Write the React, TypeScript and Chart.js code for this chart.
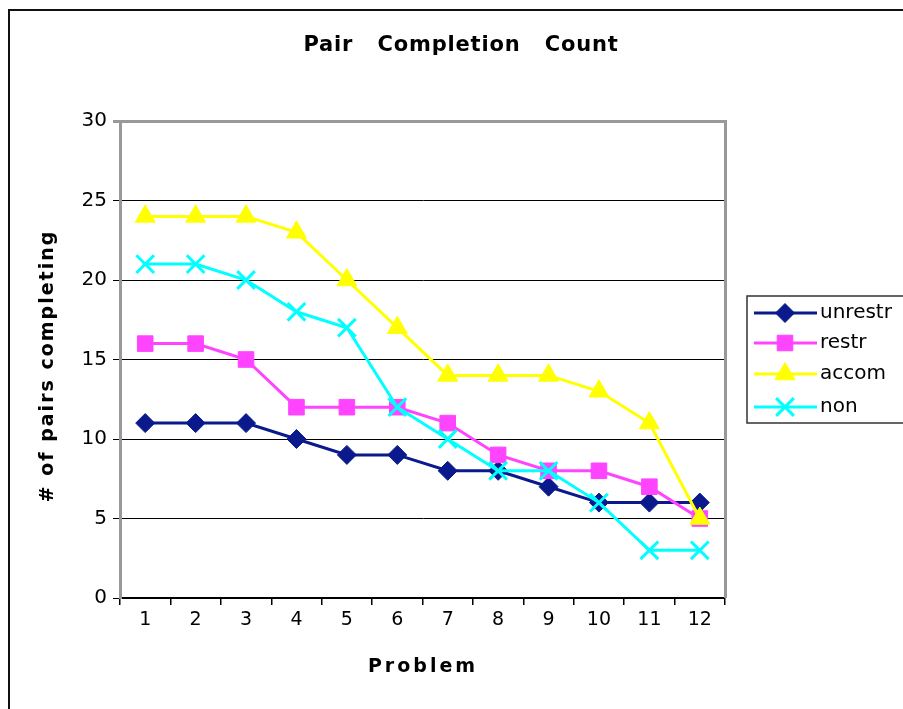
import React, { useEffect, useRef } from "react";
import { Chart, registerables } from "chart.js";
import { drawPoint } from "chart.js/helpers";

Chart.register(...registerables);

const problems = ["1", "2", "3", "4", "5", "6", "7", "8", "9", "10", "11", "12"];
const unrestr = [11, 11, 11, 10, 9, 9, 8, 8, 7, 6, 6, 6];
const restr = [16, 16, 15, 12, 12, 12, 11, 9, 8, 8, 7, 5];
const accom = [24, 24, 24, 23, 20, 17, 14, 14, 14, 13, 11, 5];
const non = [21, 21, 20, 18, 17, 12, 10, 8, 8, 6, 3, 3];

const FONT = "'DejaVu Sans', Verdana, sans-serif";

const NAVY = "#0a1a8c";
const MAGENTA = "#ff44ff";
const YELLOW = "#ffff00";
const CYAN = "#00ffff";

const decorPlugin = {
  id: "decor",
  afterDraw(chart: any) {
    const ctx = chart.ctx as CanvasRenderingContext2D;
    const area = chart.chartArea;
    ctx.save();
    // right border of plot area
    ctx.strokeStyle = "#999999";
    ctx.lineWidth = 3;
    ctx.beginPath();
    ctx.moveTo(area.right + 0.5, area.top - 1);
    ctx.lineTo(area.right + 0.5, area.bottom);
    ctx.stroke();

    // title
    ctx.fillStyle = "#000";
    ctx.textAlign = "center";
    ctx.textBaseline = "middle";
    ctx.font = `bold 21px ${FONT}`;
    (ctx as any).letterSpacing = "0.8px";
    ctx.fillText("Pair   Completion   Count", 461, 46);

    // x title
    ctx.font = `bold 19px ${FONT}`;
    (ctx as any).letterSpacing = "3px";
    ctx.fillText("Problem", 423, 667);

    // y title
    ctx.save();
    ctx.translate(48, 366);
    ctx.rotate(-Math.PI / 2);
    ctx.font = `bold 19px ${FONT}`;
    (ctx as any).letterSpacing = "2px";
    ctx.fillText("# of pairs completing", 0, 0);
    ctx.restore();
    (ctx as any).letterSpacing = "0px";

    // legend
    const lx = 747, ly = 296, lw = 170, lh = 127;
    ctx.strokeStyle = "#333";
    ctx.lineWidth = 1.5;
    ctx.strokeRect(lx, ly, lw, lh);
    const ys = [313, 343, 374, 407];
    chart.data.datasets.forEach((ds: any, i: number) => {
      const y = ys[i];
      ctx.strokeStyle = ds.borderColor;
      ctx.lineWidth = 3;
      ctx.beginPath();
      ctx.moveTo(754, y);
      ctx.lineTo(817, y);
      ctx.stroke();
      ctx.fillStyle = ds.pointBackgroundColor;
      ctx.strokeStyle = ds.pointBorderColor;
      ctx.lineWidth = ds.pointBorderWidth;
      drawPoint(ctx, { pointStyle: ds.pointStyle, radius: ds.pointRadius, borderWidth: ds.pointBorderWidth, rotation: 0 } as any, 785, y);
      ctx.fillStyle = "#000";
      ctx.textAlign = "left";
      ctx.textBaseline = "middle";
      ctx.font = `20px ${FONT}`;
      ctx.fillText(ds.label, 820, y);
    });
    ctx.restore();
  },
};

export default function App() {
  const ref = useRef<HTMLCanvasElement>(null);
  useEffect(() => {
    if (!ref.current) return;
    const mk = (label: string, data: number[], color: string, style: string, r: number, bw: number, order: number) => ({
      label,
      data,
      order,
      borderColor: color,
      backgroundColor: color,
      pointBackgroundColor: color,
      pointBorderColor: color,
      pointStyle: style,
      pointRadius: r,
      pointHoverRadius: r,
      pointBorderWidth: bw,
      borderWidth: 3,
      tension: 0,
    });
    const chart = new Chart(ref.current, {
      type: "line",
      data: {
        labels: problems,
        datasets: [
          mk("unrestr", unrestr, NAVY, "rectRot", 9.5, 1, 3),
          mk("restr", restr, MAGENTA, "rect", 11, 1, 2),
          mk("accom", accom, YELLOW, "triangle", 11.5, 1, 1),
          mk("non", non, CYAN, "crossRot", 12.5, 3, 0),
        ],
      },
      plugins: [decorPlugin],
      options: {
        animation: false,
        responsive: false,
        devicePixelRatio: 1,
        layout: { padding: { left: 0, top: 121, right: 178, bottom: 0 } },
        plugins: { legend: { display: false }, title: { display: false }, tooltip: { enabled: false } },
        scales: {
          x: {
            offset: true,
            afterFit: (s: any) => { s.height = 111; },
            grid: { offset: true, drawOnChartArea: false, drawTicks: true, tickLength: 7, color: "#000", lineWidth: 1.5 },
            border: { color: "#000", width: 2 },
            ticks: { color: "#000", font: { family: FONT, size: 19 }, padding: 4, maxRotation: 0, autoSkip: false },
          },
          y: {
            min: 0,
            max: 30,
            afterFit: (s: any) => { s.width = 120; },
            ticks: { stepSize: 5, color: "#000", font: { family: FONT, size: 20 }, padding: 6 },
            grid: {
              tickLength: 7,
              color: (c: any) => (c.tick && (c.tick.value === 30) ? "#999999" : "#000"),
              lineWidth: (c: any) => (c.tick && c.tick.value === 30 ? 3 : 1),
            },
            border: { color: "#999999", width: 3 },
          },
        },
      },
    });
    return () => chart.destroy();
  }, []);
  return (
    <div style={{ position: "fixed", left: 0, top: 0, width: 903, height: 709, overflow: "hidden", background: "#fff" }}>
      <div style={{ position: "absolute", left: 8, top: 9, width: 1000, height: 1000, border: "2px solid #111" }} />
      <canvas ref={ref} width={903} height={709} style={{ position: "absolute", left: 0, top: 0, width: 903, height: 709 }} />
    </div>
  );
}
